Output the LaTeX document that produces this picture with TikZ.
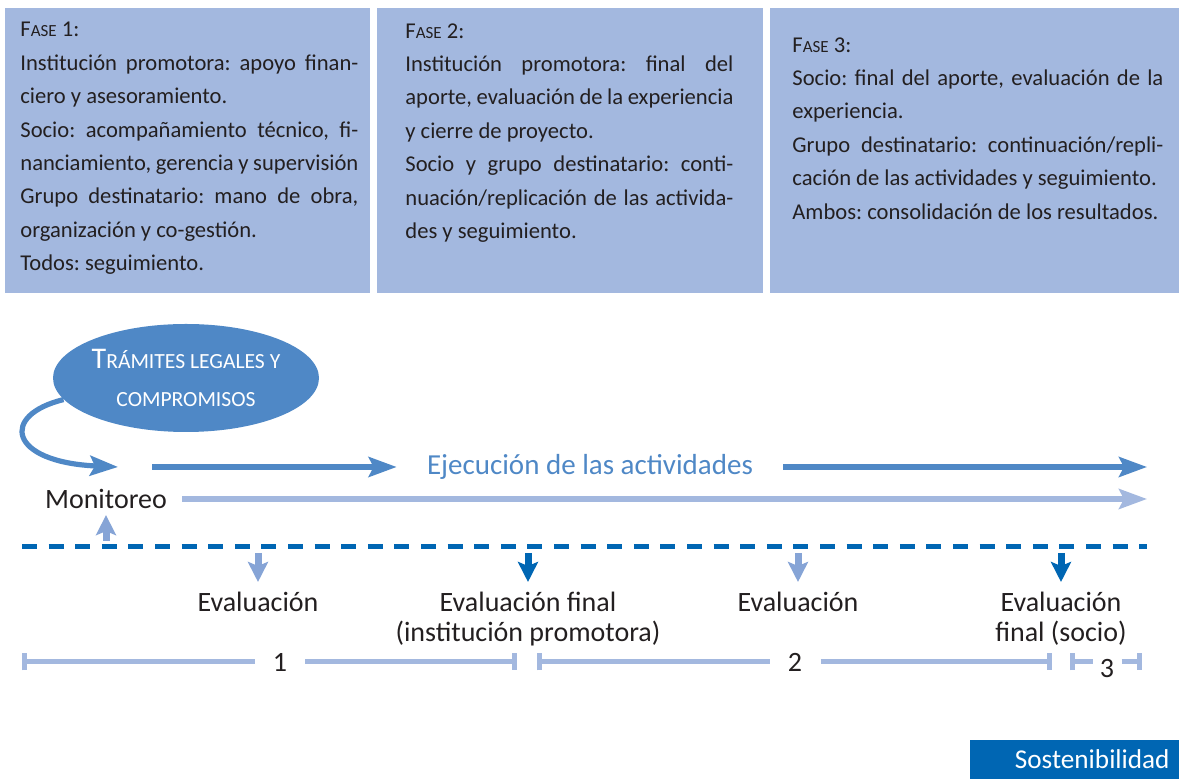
\documentclass[tikz,border=0pt]{standalone}
\usepackage{fontspec}
\setmainfont{Carlito}
\usetikzlibrary{arrows.meta,shapes.geometric}
\definecolor{paleblue}{HTML}{A3B8DF}
\definecolor{midblue}{HTML}{4F88C6}
\definecolor{darkblue}{HTML}{0066B3}
\definecolor{arrowblue}{HTML}{86A4D6}
\definecolor{ink}{HTML}{231F20}
\newcommand{\fasehd}[1]{F{\fontsize{8.5}{16.5}\selectfont ASE} #1:}
\newcommand{\smcap}[1]{{\fontsize{10.8}{19}\selectfont #1}}
\tikzset{>=stealth,
  fasetext/.style={anchor=north west, inner sep=0pt, align=justify, text=ink,
    font={\fontsize{11.3}{16.7}\selectfont\frenchspacing\hyphenpenalty=10000\exhyphenpenalty=10000}},
  tramite/.style={ellipse, fill=midblue, text=white, align=center,
    font=\fontsize{15}{19}\selectfont, inner xsep=-3pt, inner ysep=1pt,
    minimum width=133pt, minimum height=54pt},
  ejtext/.style={text=midblue, font=\fontsize{14.5}{17}\selectfont, inner xsep=15pt, inner ysep=0pt},
  ejarrow/.style={-{Stealth[length=14pt,width=10pt,inset=2.5pt]}, midblue, line width=2.6pt},
  montext/.style={text=ink, font=\fontsize{14}{15}\selectfont, inner xsep=7.5pt, inner ysep=3pt},
  monarrow/.style={-{Stealth[length=14pt,width=10pt,inset=2.5pt]}, paleblue, line width=2.6pt},
  pointer/.style={-{Stealth[length=10pt,width=10pt,inset=2pt]}, line width=3.5pt},
  dashline/.style={darkblue, line width=2.5pt, dash pattern=on 7.5pt off 5.8pt},
  evaltext/.style={anchor=north, align=center, text=ink, font=\fontsize{14}{15}\selectfont,
    inner xsep=0pt, inner ysep=5pt},
  phasenum/.style={text=ink, font=\fontsize{14}{15}\selectfont, inner xsep=9pt, inner ysep=0pt},
  phasebar/.style={paleblue, line width=2.5pt},
  sostbox/.style={anchor=south east, fill=darkblue, text=white, font=\fontsize{13.6}{15}\selectfont,
    minimum height=19.5pt, text width=95.5pt, align=right, inner xsep=4.5pt, inner ysep=0pt}
}
\begin{document}
\begin{tikzpicture}[x=0.5pt,y=-0.5pt]
\useasboundingbox (0,0) rectangle (1179,779);
% fases
\fill[paleblue] (5,8) rectangle (370,293);
\fill[paleblue] (377,8) rectangle (763,293);
\fill[paleblue] (770,8) rectangle (1179,293);
\node[fasetext,text width=169pt] (fase1) at (20,22) {\fasehd{1}\\
Institución promotora: apoyo finan-\linebreak
ciero y asesoramiento.\\
Socio: acompañamiento técnico, fi-\linebreak
nanciamiento, gerencia y supervisión\\
Grupo destinatario: mano de obra,\linebreak
organización y co-gestión.\\
Todos: seguimiento.};
\node[fasetext,text width=164pt] (fase2) at (405,23) {\fasehd{2}\\
Institución promotora: final del\linebreak
aporte, evaluación de la experiencia\linebreak
y cierre de proyecto.\\
Socio y grupo destinatario: conti-\linebreak
nuación/replicación de las activida-\linebreak
des y seguimiento.};
\node[fasetext,text width=185.5pt] (fase3) at (792,37) {\fasehd{3}\\
Socio: final del aporte, evaluación de la\linebreak
experiencia.\\
Grupo destinatario: continuación/repli-\linebreak
cación de las actividades y seguimiento.\\
Ambos: consolidación de los resultados.};

% tramites y ejecucion
\node[tramite] (tramites) at (186,378) {T\smcap{RÁMITES LEGALES Y}\\\smcap{COMPROMISOS}};
\coordinate (curvend) at (118,467);
\coordinate (ejstart) at (152,467);
\coordinate (ejend) at (1147,467);
\node[ejtext] (ejec) at (590,467) {Ejecución de las actividades};
\draw[ejarrow] (tramites.190) .. controls (0,415) and (8,462) .. (curvend);
\draw[ejarrow] (ejstart) -- (ejec.west);
\draw[ejarrow] (ejec.east) -- (ejend);

% monitoreo
\node[montext] (monit) at (106,499) {Monitoreo};
\coordinate (monend) at (1147,499);
\draw[monarrow] (monit.east) -- (monend);
\coordinate (dashl) at (22,547);
\coordinate (dashr) at (1147,547);
\draw[pointer,arrowblue] ([yshift=3pt]monit.south |- dashl) -- (monit.south);
\draw[dashline] (dashl) -- (dashr);

% evaluaciones
\node[evaltext] (eval1) at (258,582) {Evaluación};
\node[evaltext] (evalfin1) at (528,582) {Evaluación final\\(institución promotora)};
\node[evaltext] (eval2) at (798,582) {Evaluación};
\node[evaltext] (evalfin2) at (1061,582) {Evaluación\\final (socio)};
\foreach \n/\c in {eval1/arrowblue, evalfin1/darkblue, eval2/arrowblue, evalfin2/darkblue}
  \draw[pointer,\c] ([yshift=-3pt]\n.north |- dashl) -- (\n.north);

% duracion de las fases
\coordinate (f1a) at (22,662);
\coordinate (f1b) at (517,662);
\coordinate (f2a) at (537,662);
\coordinate (f2b) at (1052,662);
\coordinate (f3a) at (1070,662);
\coordinate (f3b) at (1142,662);
\node[phasenum] (num1) at (280,662) {1};
\node[phasenum] (num2) at (795,662) {2};
\node[phasenum,inner xsep=3.5pt] (num3) at (1107,669) {3};
\draw[phasebar,{Bar[width=8.5pt]}-] (f1a) -- (num1);
\draw[phasebar,-{Bar[width=8.5pt]}] (num1) -- (f1b);
\draw[phasebar,{Bar[width=8.5pt]}-] (f2a) -- (num2);
\draw[phasebar,-{Bar[width=8.5pt]}] (num2) -- (f2b);
\draw[phasebar,{Bar[width=8.5pt]}-] (f3a) -- (num3.west |- f3a);
\draw[phasebar,-{Bar[width=8.5pt]}] (num3.east |- f3b) -- (f3b);

\node[sostbox] (sosten) at (1179,779) {Sostenibilidad};
\end{tikzpicture}
\end{document}
